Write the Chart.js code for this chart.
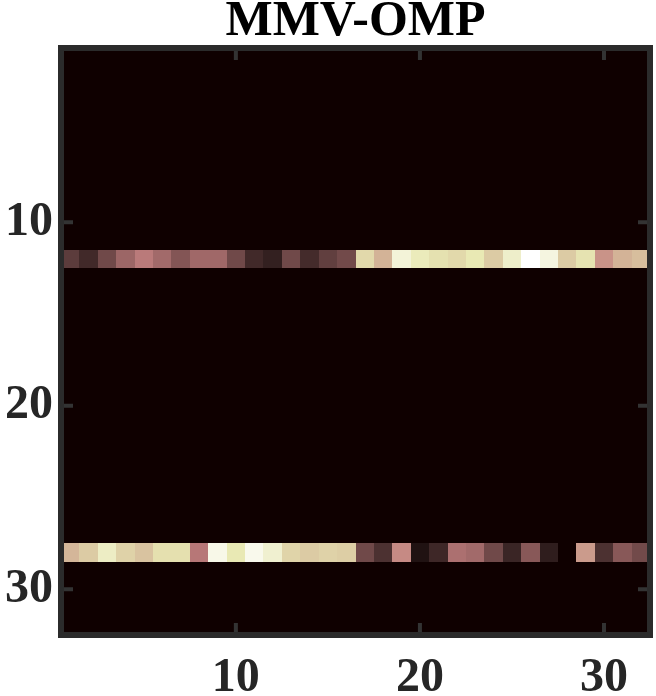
<!DOCTYPE html>
<html>
<head>
<meta charset="utf-8">
<script src="https://cdn.jsdelivr.net/npm/chart.js@4/dist/chart.umd.min.js"></script>
<style>
  html, body { margin: 0; padding: 0; background: #fff; }
  #wrap { width: 656px; height: 696px; position: relative; }
</style>
</head>
<body>
<div id="wrap"><canvas id="c"></canvas></div>
<script>
// matrix size and ticks
const colIdx = [1,2,3,4,5,6,7,8,9,10,11,12,13,14,15,16,17,18,19,20,21,22,23,24,25,26,27,28,29,30,31,32];
const rowIdx = [1,2,3,4,5,6,7,8,9,10,11,12,13,14,15,16,17,18,19,20,21,22,23,24,25,26,27,28,29,30,31,32];
const tickVals = [10, 20, 30];

// the only non-zero rows (normalised magnitude)
const activeRows = [12, 28];
const row12 = [0.083,0.041,0.12,0.24,0.343,0.26,0.17,0.25,0.25,0.12,0.041,0.024,0.12,0.042,0.089,0.126,
               0.68,0.53,0.859,0.77,0.714,0.68,0.75,0.62,0.81,1.0,0.886,0.62,0.72,0.427,0.53,0.57];
const row28 = [0.54,0.62,0.795,0.65,0.59,0.71,0.71,0.33,0.914,0.75,0.93,0.83,0.66,0.62,0.65,0.63,
               0.12,0.053,0.40,0.009,0.037,0.29,0.26,0.12,0.033,0.18,0.018,0,0.45,0.053,0.18,0.126];
const activeVals = [row12, row28];

// matlab "pink" colormap, 256 levels
function pink(v){
  const i = Math.round(Math.max(0, Math.min(1, v)) * 255);   // 0..255
  const g = i / 255;
  const clamp = t => Math.max(0, Math.min(1, t));
  const hr = clamp((i + 1) / 96);
  const hg = clamp((i + 1 - 96) / 96);
  const hb = clamp((i + 1 - 192) / 64);
  const c = h => Math.round(255 * Math.sqrt((2 * g + h) / 3));
  return `rgb(${c(hr)},${c(hg)},${c(hb)})`;
}

// full list of cells
const cells = [];
rowIdx.forEach(r => {
  const k = activeRows.indexOf(r);
  colIdx.forEach((c, i) => cells.push({ x: c, y: r, v: k >= 0 ? activeVals[k][i] : 0 }));
});

const serif = '"Liberation Serif", "Times New Roman", serif';

const heatmap = {
  id: 'heatmap',
  beforeDatasetsDraw(chart){
    const { ctx, chartArea: a, scales: { x, y } } = chart;
    ctx.save();
    ctx.beginPath(); ctx.rect(a.left, a.top, a.right - a.left, a.bottom - a.top); ctx.clip();
    chart.data.datasets[0].data.forEach(p => {
      const x0 = Math.round(x.getPixelForValue(p.x - 0.5)), x1 = Math.round(x.getPixelForValue(p.x + 0.5));
      const y0 = Math.round(y.getPixelForValue(p.y - 0.5)), y1 = Math.round(y.getPixelForValue(p.y + 0.5));
      ctx.fillStyle = pink(p.v);
      ctx.fillRect(x0, y0, x1 - x0, y1 - y0);
    });
    ctx.restore();
  },
  afterDraw(chart){
    const { ctx, chartArea: a, scales: { x, y } } = chart;
    ctx.save();
    // inward ticks
    ctx.strokeStyle = '#333';
    ctx.lineWidth = 4;
    const tl = 12;
    x.ticks.forEach(t => {
      const px = x.getPixelForValue(t.value);
      ctx.beginPath();
      ctx.moveTo(px, a.bottom); ctx.lineTo(px, a.bottom - tl);
      ctx.moveTo(px, a.top); ctx.lineTo(px, a.top + tl);
      ctx.stroke();
    });
    y.ticks.forEach(t => {
      const py = y.getPixelForValue(t.value);
      ctx.beginPath();
      ctx.moveTo(a.left, py); ctx.lineTo(a.left + tl, py);
      ctx.moveTo(a.right, py); ctx.lineTo(a.right - tl, py);
      ctx.stroke();
    });
    // box
    ctx.strokeStyle = '#2b2b2b';
    ctx.lineWidth = 6;
    ctx.strokeRect(a.left, a.top, a.right - a.left, a.bottom - a.top);
    ctx.restore();
  }
};

new Chart(document.getElementById('c'), {
  type: 'scatter',
  data: { datasets: [{ data: cells, pointRadius: 0, pointHoverRadius: 0 }] },
  options: {
    responsive: true,
    maintainAspectRatio: false,
    animation: false,
    events: [],
    layout: { padding: { top: 0, right: 6, bottom: 0, left: 0 } },
    plugins: {
      legend: { display: false },
      tooltip: { enabled: false },
      title: {
        display: true,
        text: 'MMV-OMP',
        fullSize: false,
        color: '#000',
        font: { family: serif, size: 50, weight: 'bold', lineHeight: 0.9 },
        padding: { top: 0, bottom: 3 }
      }
    },
    scales: {
      x: {
        type: 'linear', min: 0.5, max: 32.5,
        grid: { display: false },
        border: { display: false },
        afterBuildTicks: s => { s.ticks = tickVals.map(v => ({ value: v })); },
        afterFit: s => { s.height = 61; },
        ticks: { color: '#262626', padding: 7, maxRotation: 0,
                 font: { family: serif, size: 48, weight: 'bold' } }
      },
      y: {
        type: 'linear', min: 0.5, max: 32.5, reverse: true,
        grid: { display: false },
        border: { display: false },
        afterBuildTicks: s => { s.ticks = tickVals.map(v => ({ value: v })); },
        afterFit: s => { s.width = 61; },
        ticks: { color: '#262626', padding: 0,
                 font: { family: serif, size: 48, weight: 'bold' } }
      }
    }
  },
  plugins: [heatmap]
});
</script>
</body>
</html>
